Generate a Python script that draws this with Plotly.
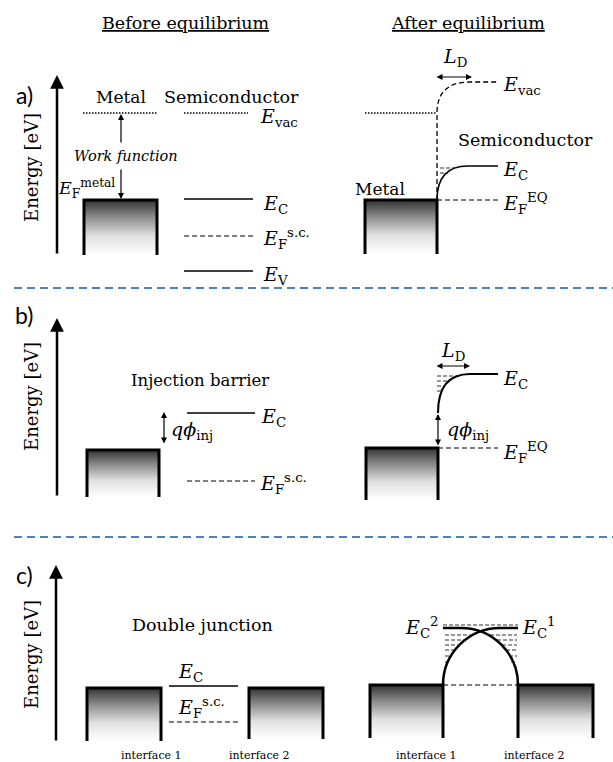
import plotly.graph_objects as go

SERIF = "DejaVu Serif"
SANS = "Lato"
BLUE = "#4f81bd"

# ---------------- values (figure units, y grows downward = lower energy) ----------------
panel_labels = ["a)", "b)", "c)"]
panel_label_y = [95, 315, 575]
energy_axis_x = [57, 57, 56]
energy_axis_top = [75, 318, 565]
energy_axis_bottom = [255, 497, 742]
energy_label_y = [168, 397, 655]
separator_y = [288, 537]

# metal blocks (Fermi level at the top edge)
metal_x0 = [84, 365, 87, 366, 87, 249, 370, 518]
metal_x1 = [157, 437, 159, 438, 161, 323, 443, 593]
metal_top = [200, 200, 450, 448, 688, 688, 685, 685]
metal_bottom = [255, 254, 497, 500, 741, 739, 738, 738]

# straight band levels: (x0, x1, y)
solid_levels = [(184, 253, 199), (184, 253, 271), (187, 255, 413), (169, 238, 686)]
dashed_levels = [(184, 253, 236), (437, 498, 200), (187, 255, 481), (438, 498, 448),
                 (169, 238, 722), (443, 518, 685)]
dotted_levels = [(83, 157, 113), (184, 248, 113), (365, 437, 113)]

# bent bands (point lists: start, [control...], end, straight continuation)
a_vac_bent = [(437, 200), (437, 113), (437, 82), (470, 82), (498, 82)]
a_ec_bent = [(437, 200), (437, 166), (468, 166), (498, 166)]
b_ec_bent = [(438, 413), (438, 374), (470, 374), (498, 374)]
c_ec1_arc = [(443, 685), (443, 653.5), (468.5, 628), (500, 628), (518, 628)]
c_ec2_arc = [(518, 685), (518, 653.5), (492.5, 628), (461, 628), (443, 628)]

# accumulated electrons: rows (y, x0, x1)
electron_rows = [
    (168, 440, 455), (173, 440, 448),
    (376, 437, 454), (381, 437, 448), (386, 437, 445), (391, 437, 441),
    (625, 443, 518),
    (635, 445, 471), (640, 445, 464), (645, 445, 459), (650, 445, 455), (656, 445, 452), (662, 445, 450),
    (635, 490, 517), (640, 497, 517), (645, 502, 517), (650, 506, 517), (656, 509, 517), (662, 511, 517),
]

fig = go.Figure()

# ---------------- metal blocks with gradient ----------------
for x0, x1, t, b in zip(metal_x0, metal_x1, metal_top, metal_bottom):
    fig.add_trace(go.Scatter(
        x=[x0, x1, x1, x0, x0], y=[t, t, b, b, t], mode="lines", fill="toself",
        line=dict(width=0, color="rgba(0,0,0,0)"),
        fillgradient=dict(type="vertical", start=t, stop=b,
                          colorscale=[[0, "#333333"], [0.3, "#888888"], [0.65, "#e0e0e0"], [1, "#ffffff"]]),
        hoverinfo="skip"))
    fig.add_trace(go.Scatter(
        x=[x0, x0, x1, x1], y=[b, t, t, b], mode="lines",
        line=dict(width=3, color="black"), hoverinfo="skip"))


def seg_trace(levels, dash, width, color="black"):
    xs, ys = [], []
    for x0, x1, y in levels:
        xs += [x0, x1, None]
        ys += [y, y, None]
    return go.Scatter(x=xs, y=ys, mode="lines", line=dict(width=width, color=color, dash=dash),
                      hoverinfo="skip")


fig.add_trace(seg_trace(solid_levels, "solid", 1.6))
fig.add_trace(seg_trace(dashed_levels, "5px,3px", 1.2))
fig.add_trace(seg_trace(dotted_levels, "1.5px,1.5px", 1.5))
fig.add_trace(seg_trace([(x0, x1, y) for y, x0, x1 in electron_rows], "4px,2px", 1, "#333333"))

# separators
fig.add_trace(seg_trace([(14, 613, y) for y in separator_y], "8px,5px", 2, BLUE))


def quad_path(pts):
    (x0, y0), (x1, y1), (cx, cy), (ex, ey), *rest = pts
    p = f"M {x0},{y0} L {x1},{y1} Q {cx},{cy} {ex},{ey}"
    for x, y in rest:
        p += f" L {x},{y}"
    return p


def quad_path2(pts):
    (x0, y0), (cx, cy), (ex, ey), *rest = pts
    p = f"M {x0},{y0} Q {cx},{cy} {ex},{ey}"
    for x, y in rest:
        p += f" L {x},{y}"
    return p


def cubic_path(pts):
    (x0, y0), (c1x, c1y), (c2x, c2y), (ex, ey), *rest = pts
    p = f"M {x0},{y0} C {c1x},{c1y} {c2x},{c2y} {ex},{ey}"
    for x, y in rest:
        p += f" L {x},{y}"
    return p


shapes = [
    dict(type="path", path=quad_path(a_vac_bent), line=dict(color="black", width=1.3, dash="5px,3px")),
    dict(type="path", path=quad_path2(a_ec_bent), line=dict(color="black", width=1.6)),
    dict(type="path", path=quad_path2(b_ec_bent), line=dict(color="black", width=2)),
    dict(type="path", path=cubic_path(c_ec1_arc), line=dict(color="black", width=2.5)),
    dict(type="path", path=cubic_path(c_ec2_arc), line=dict(color="black", width=2.5)),
]
for s in shapes:
    s.update(xref="x", yref="y", layer="above")

annotations = []


def txt(x, y, text, size=16, family=SERIF, xanchor="center", angle=0):
    annotations.append(dict(x=x, y=y, text=text, showarrow=False, xref="x", yref="y",
                            xanchor=xanchor, yanchor="middle", textangle=angle,
                            font=dict(family=family, size=size, color="black")))


def arrow(x, y, ax, ay, width=1.2, both=False, head=2, size=1.0):
    annotations.append(dict(x=x, y=y, ax=ax, ay=ay, xref="x", yref="y", axref="x", ayref="y",
                            text="", showarrow=True, arrowhead=head, startarrowhead=head,
                            arrowsize=size, startarrowsize=size, arrowwidth=width,
                            arrowcolor="black", standoff=0, startstandoff=0,
                            arrowside="end+start" if both else "end"))


# headings
txt(186, 23, "<u>Before equilibrium</u>", 17.5)
txt(468, 23, "<u>After equilibrium</u>", 17.5)

# panel labels, energy axes
for lab, ly, ax_x, top, bot, ey in zip(panel_labels, panel_label_y, energy_axis_x,
                                       energy_axis_top, energy_axis_bottom, energy_label_y):
    txt(24, ly, lab, 23, SANS)
    arrow(ax_x, top, ax_x, bot, width=2.5, head=2, size=1.1)
    txt(31, ey, "Energy [eV]", 18, angle=-90)

E = "<i>E</i>"
LBL = 19
# panel a, before
txt(121, 97, "Metal", 17)
txt(231, 97, "Semiconductor", 17.5)
txt(258, 117, E + "<sub>vac</sub>", LBL, xanchor="left")
txt(126, 156, "<i>Work function</i>", 14.5)
arrow(121, 114, 121, 144)
arrow(121, 199, 121, 168)
txt(117, 188, E + "<sub>F</sub><sup>metal</sup>", 17.5, xanchor="right")
txt(261, 204, E + "<sub>C</sub>", LBL, xanchor="left")
txt(261, 238, E + "<sub>F</sub><sup>s.c.</sup>", LBL, xanchor="left")
txt(261, 275, E + "<sub>V</sub>", LBL, xanchor="left")

# panel a, after
txt(455, 57, "<i>L</i><sub>D</sub>", LBL)
arrow(472, 77, 435, 77, both=True)
txt(501, 85, E + "<sub>vac</sub>", LBL, xanchor="left")
txt(525, 140, "Semiconductor", 17.5)
txt(501, 170, E + "<sub>C</sub>", LBL, xanchor="left")
txt(380, 189, "Metal", 17)
txt(501, 203, E + "<sub>F</sub><sup>EQ</sup>", LBL, xanchor="left")

# panel b, before
txt(200, 380, "Injection barrier", 16.5)
txt(259, 417, E + "<sub>C</sub>", LBL, xanchor="left")
arrow(164, 412, 164, 445, both=True)
txt(169, 430, "<i>qϕ</i><sub>inj</sub>", LBL, xanchor="left")
txt(258, 483, E + "<sub>F</sub><sup>s.c.</sup>", LBL, xanchor="left")

# panel b, after
txt(453, 351, "<i>L</i><sub>D</sub>", LBL)
arrow(470, 366, 435, 366, both=True)
txt(501, 379, E + "<sub>C</sub>", LBL, xanchor="left")
arrow(438, 414, 438, 447, both=True)
txt(445, 430, "<i>qϕ</i><sub>inj</sub>", LBL, xanchor="left")
txt(501, 452, E + "<sub>F</sub><sup>EQ</sup>", LBL, xanchor="left")

# panel c, before
txt(202, 625, "Double junction", 17.5)
txt(176, 672, E + "<sub>C</sub>", LBL, xanchor="left")
txt(176, 707, E + "<sub>F</sub><sup>s.c.</sup>", LBL, xanchor="left")
txt(151, 755, "interface 1", 11)
txt(259, 755, "interface 2", 11)

# panel c, after
txt(441, 627, E + "<sub>C</sub><sup>2</sup>", LBL, xanchor="right")
txt(520, 627, E + "<sub>C</sub><sup>1</sup>", LBL, xanchor="left")
txt(426, 755, "interface 1", 11)
txt(534, 755, "interface 2", 11)

fig.update_layout(
    width=613, height=762, margin=dict(l=0, r=0, t=0, b=0),
    paper_bgcolor="white", plot_bgcolor="white", showlegend=False,
    xaxis=dict(range=[0, 613], visible=False, fixedrange=True),
    yaxis=dict(range=[762, 0], visible=False, fixedrange=True),
    shapes=shapes, annotations=annotations,
)

fig.write_html("out.html")
